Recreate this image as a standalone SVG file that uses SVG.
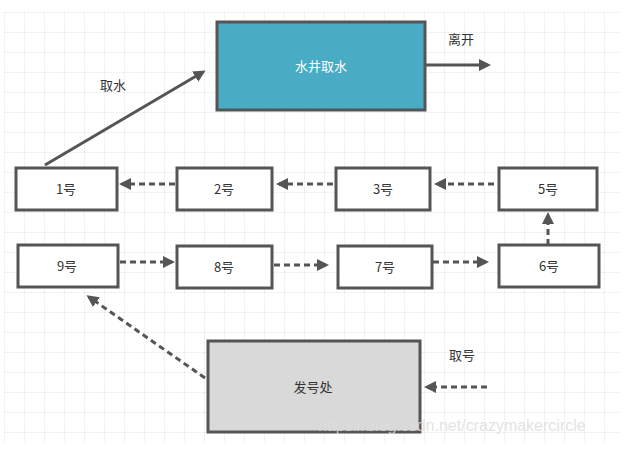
<svg xmlns="http://www.w3.org/2000/svg" width="624" height="451" viewBox="0 0 624 451">
<defs>
<pattern id="grid" width="20" height="20" patternUnits="userSpaceOnUse" x="4" y="12">
<path d="M0 0H20M0 0V20" fill="none" stroke="#d6d6d6" stroke-width="0.8" stroke-dasharray="2 1"/>
</pattern>
<marker id="ah" markerWidth="4" markerHeight="4" refX="3" refY="2" orient="auto" markerUnits="strokeWidth">
<path d="M0,0 L4,2 L0,4 Z" fill="#555"/>
</marker>
<style>
.box{stroke:#555;stroke-width:3}
.small{fill:#fff}
.t{font-family:"Noto Sans CJK SC","Liberation Sans",sans-serif;font-size:13px;fill:#333;text-anchor:middle;dominant-baseline:central}
.c{stroke:#555;stroke-width:3;fill:none}
.d{stroke-dasharray:6 4}
</style>
</defs>
<rect width="624" height="451" fill="#fff"/>
<rect x="4" y="12" width="616" height="432" fill="url(#grid)"/>
<g id="connectors">
<line class="c" x1="45" y1="165" x2="203" y2="72" marker-end="url(#ah)"/>
<line class="c" x1="425" y1="65" x2="488" y2="65" marker-end="url(#ah)"/>
<line class="c d" x1="175" y1="184" x2="122" y2="184" marker-end="url(#ah)"/>
<line class="c d" x1="333" y1="184" x2="279" y2="184" marker-end="url(#ah)"/>
<line class="c d" x1="494" y1="184" x2="437" y2="184" marker-end="url(#ah)"/>
<line class="c d" x1="548" y1="245" x2="548" y2="215" marker-end="url(#ah)"/>
<line class="c d" x1="120" y1="262" x2="172" y2="262" marker-end="url(#ah)"/>
<line class="c d" x1="274" y1="265" x2="326" y2="265" marker-end="url(#ah)"/>
<line class="c d" x1="433" y1="262" x2="486" y2="262" marker-end="url(#ah)"/>
<line class="c d" x1="205" y1="378" x2="89" y2="297" marker-end="url(#ah)"/>
<line class="c d" x1="487" y1="387" x2="427" y2="387" marker-end="url(#ah)"/>
</g>
<g id="well"><rect class="box" x="217" y="22" width="208" height="88" fill="#4aabc5"/><text class="t" x="321" y="65" style="fill:#fff">水井取水</text></g>
<g id="n1"><rect class="box small" x="16" y="168" width="101" height="42"/><text class="t" x="66" y="188">1号</text></g>
<g id="n2"><rect class="box small" x="177" y="168" width="95" height="42"/><text class="t" x="224" y="188">2号</text></g>
<g id="n3"><rect class="box small" x="336" y="168" width="94" height="42"/><text class="t" x="383" y="188">3号</text></g>
<g id="n5"><rect class="box small" x="499" y="168" width="98" height="42"/><text class="t" x="548" y="188">5号</text></g>
<g id="n9"><rect class="box small" x="18" y="245" width="100" height="42"/><text class="t" x="67" y="265">9号</text></g>
<g id="n8"><rect class="box small" x="177" y="246" width="95" height="42"/><text class="t" x="224" y="266">8号</text></g>
<g id="n7"><rect class="box small" x="338" y="246" width="94" height="42"/><text class="t" x="385" y="266">7号</text></g>
<g id="n6"><rect class="box small" x="499" y="245" width="100" height="42"/><text class="t" x="549" y="265">6号</text></g>
<g id="office"><rect class="box" x="208" y="341" width="212" height="91" fill="#d9d9d9"/><text class="t" x="313" y="386">发号处</text></g>
<g id="labels">
<text class="t" x="113" y="84">取水</text>
<text class="t" x="461" y="38">离开</text>
<text class="t" x="462" y="354">取号</text>
<text x="318" y="431" font-family="Liberation Sans,sans-serif" font-size="16" fill="#ddd" opacity="0.8">https://blog.csdn.net/crazymakercircle</text>
</g>
</svg>
